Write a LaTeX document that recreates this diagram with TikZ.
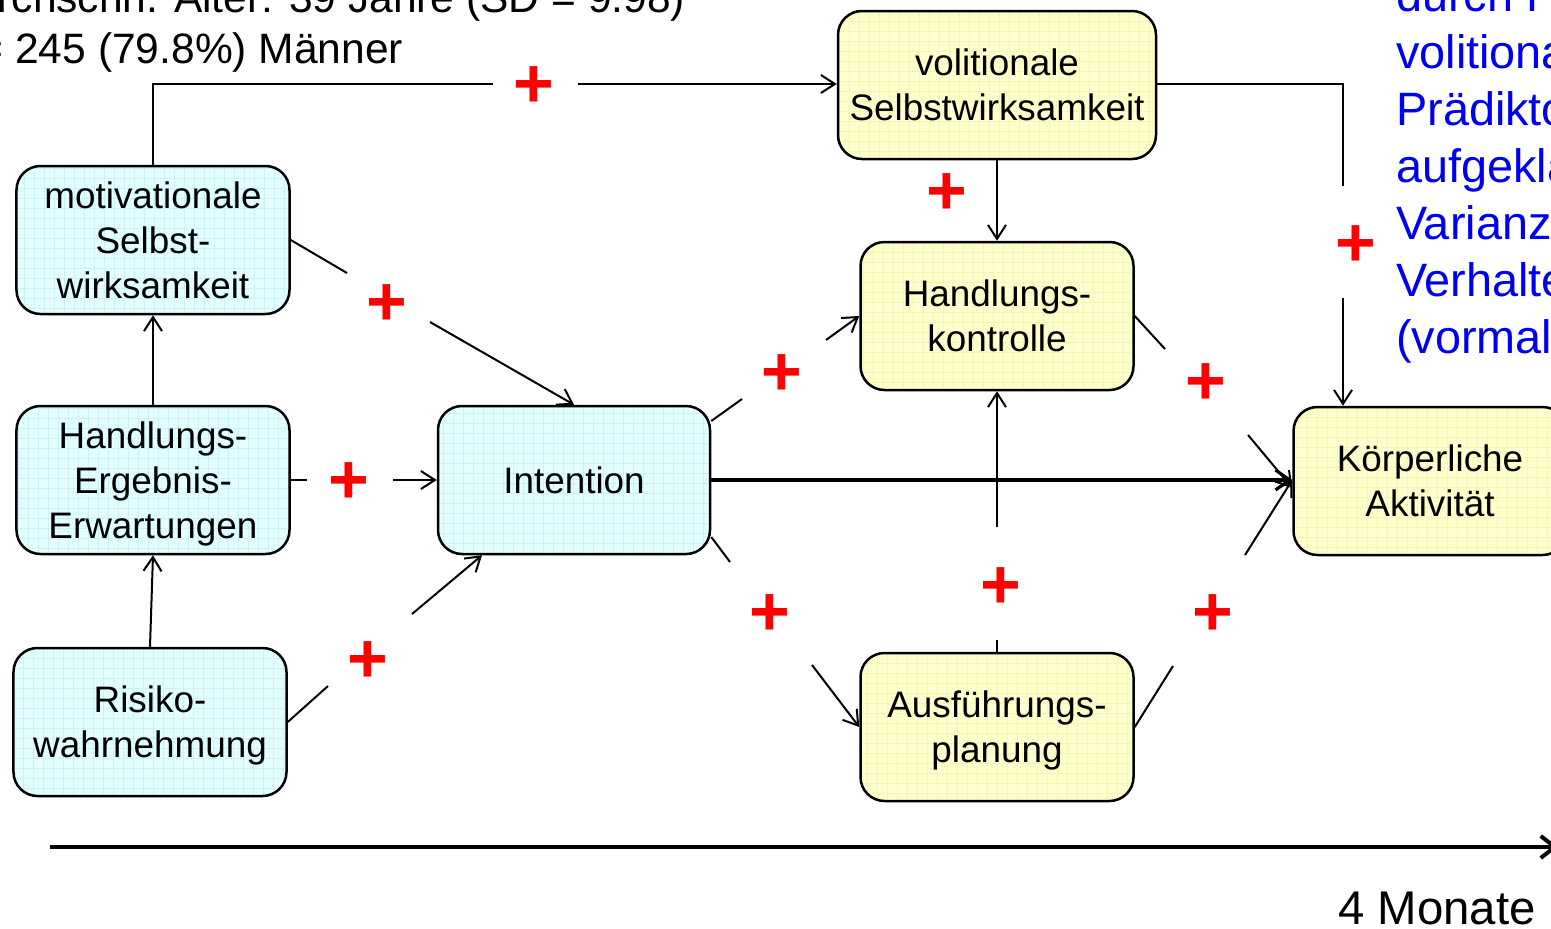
\documentclass[tikz,border=0pt]{standalone}
\usepackage{fontspec}
\setmainfont{Liberation Sans}
\usetikzlibrary{arrows.meta,calc}
\definecolor{cyanfill}{RGB}{226,255,255}
\definecolor{cyangrid}{RGB}{205,240,250}
\definecolor{yellowfill}{RGB}{255,255,204}
\definecolor{yellowgrid}{RGB}{245,245,180}
\definecolor{noteblue}{RGB}{0,0,240}
\begin{document}
\begin{tikzpicture}[x=1bp,y=-1bp,
  box/.style={draw, line width=2.5bp, rounded corners=24bp, align=center,
    minimum width=273bp, minimum height=148bp, inner sep=0pt,
    font=\fontsize{37}{45}\selectfont, text depth=0bp},
  early/.style={box, fill=cyanfill, path picture={\draw[cyangrid, line width=0.5bp, step=10bp]
    (path picture bounding box.south west) grid (path picture bounding box.north east);}},
  late/.style={box, fill=yellowfill, path picture={\draw[yellowgrid, line width=0.5bp, step=10bp]
    (path picture bounding box.south west) grid (path picture bounding box.north east);}},
  plain/.style={line width=2bp},
  link/.style={line width=2bp, -{Straight Barb[length=14bp,width=18bp,line width=2bp]}},
  sign/.style={text=red, inner sep=0pt, yshift=-3bp, font=\bfseries\fontsize{70}{70}\selectfont},
  note/.style={inner sep=0pt, anchor=base west},
]
\useasboundingbox (0,0) rectangle (1551,928);
\clip (0,0) rectangle (1551,928);

% sample description
\node[note, font=\fontsize{42.7}{50}\selectfont] (age) at (-57,12) {Durchschn. Alter: 39 Jahre (SD = 9.98)};
\node[note, font=\fontsize{42.7}{50}\selectfont] (men) at (-57,63) {n = 245 (79.8\%) Männer};

% explained variance note
\foreach \t [count=\i from 0] in {{durch Pl}, {volitional}, {Prädiktor}, {aufgeklär}, {Varianz i}, {Verhalten}, {(vormals}}
  \node[note, text=noteblue, font=\fontsize{47}{57}\selectfont] (var\i) at (1396,{11+57*\i}) {\t};

% motivational phase
\node[early] (mot)  at (153,240) {motivationale\\Selbst-\\wirksamkeit};
\node[early] (hee)  at (153,480) {Handlungs-\\Ergebnis-\\Erwartungen};
\node[early] (risk) at (150,722) {Risiko-\\wahrnehmung};
\node[early, minimum width=272bp] (int) at (574,480) {Intention};

% volitional phase
\node[late, minimum width=318bp] (vol) at (997,85) {volitionale\\Selbstwirksamkeit};
\node[late] (hk)   at (997,316) {Handlungs-\\kontrolle};
\node[late] (plan) at (997,727) {Ausführungs-\\planung};
\node[late] (kor)  at (1430,481) {Körperliche\\Aktivität};

% free ends at the gaps around the signs
\coordinate (a1) at (493,84);   \coordinate (b1) at (578,84);
\coordinate (a2) at (1343,186); \coordinate (b2) at (1343,298);
\coordinate (a4) at (347,273);  \coordinate (b4) at (430,322);
\coordinate (a5) at (307,480);  \coordinate (b5) at (393,480);
\coordinate (a7) at (328,686);  \coordinate (b7) at (412,614);
\coordinate (a8) at (742,399);  \coordinate (b8) at (826,340);
\coordinate (a9) at (730,562);  \coordinate (b9) at (812,665);
\coordinate (a11) at (997,640); \coordinate (b11) at (997,527);
\coordinate (a12) at (1165,349);\coordinate (b12) at (1248,435);
\coordinate (a13) at (1173,666);\coordinate (b13) at (1245,555);

% connectors
\draw[plain] (mot.north) |- (a1);
\draw[link] (b1) -- (b1 -| vol.west);
\draw[plain] (vol.east |- a1) -| (a2);
\draw[link] (b2) -- (b2 |- kor.north);
\draw[link] (vol.south) -- (hk.north);
\draw[plain] (mot.east) -- (a4);
\draw[link] (b4) -- (int.north);
\draw[plain] (hee.east) -- (a5);
\draw[link] (b5) -- (int.west);
\draw[link] (hee.north) -- (mot.south);
\draw[link] (risk.north) -- (hee.south);
\draw[plain] (risk.east) -- (a7);
\draw[link] (b7) -- ($(int.south)+(-92,0)$);
\draw[plain] ($(int.east)+(0,-59)$) -- (a8);
\draw[link] (b8) -- (hk.west);
\draw[plain] ($(int.east)+(0,57)$) -- (a9);
\draw[link] (b9) -- (plan.west);
\draw[line width=3.2bp, -{Straight Barb[length=14bp,width=20bp,line width=3.2bp]}] (int.east) -- (int.east -| kor.west);
\draw[plain] (plan.north) -- (a11);
\draw[link] (b11) -- (hk.south);
\draw[plain] (hk.east) -- (a12);
\draw[link] (b12) -- ($(kor.west)+(0,7)$);
\draw[plain] (plan.east) -- (a13);
\draw[link] (b13) -- ($(kor.west)+(0,-1)$);

% positive paths
\node[sign] (s1)  at (534,84)   {+};
\node[sign] (s2)  at (1356,243) {+};
\node[sign] (s3)  at (947,191)  {+};
\node[sign] (s4)  at (387,302)  {+};
\node[sign] (s5)  at (349,480)  {+};
\node[sign] (s6)  at (368,659)  {+};
\node[sign] (s7)  at (782,372)  {+};
\node[sign] (s8)  at (770,612)  {+};
\node[sign] (s9)  at (1001,585) {+};
\node[sign] (s10) at (1206,381) {+};
\node[sign] (s11) at (1213,612) {+};

% time axis
\coordinate (t0) at (50,847);
\coordinate (t1) at (1558,847);
\draw[line width=4.5bp, -{Straight Barb[length=14bp,width=22bp,line width=4bp]}] (t0) -- (t1);
\node[inner sep=0pt, anchor=base east, font=\fontsize{47.5}{55}\selectfont] (dur) at (1536,924) {4 Monate};
\end{tikzpicture}
\end{document}
